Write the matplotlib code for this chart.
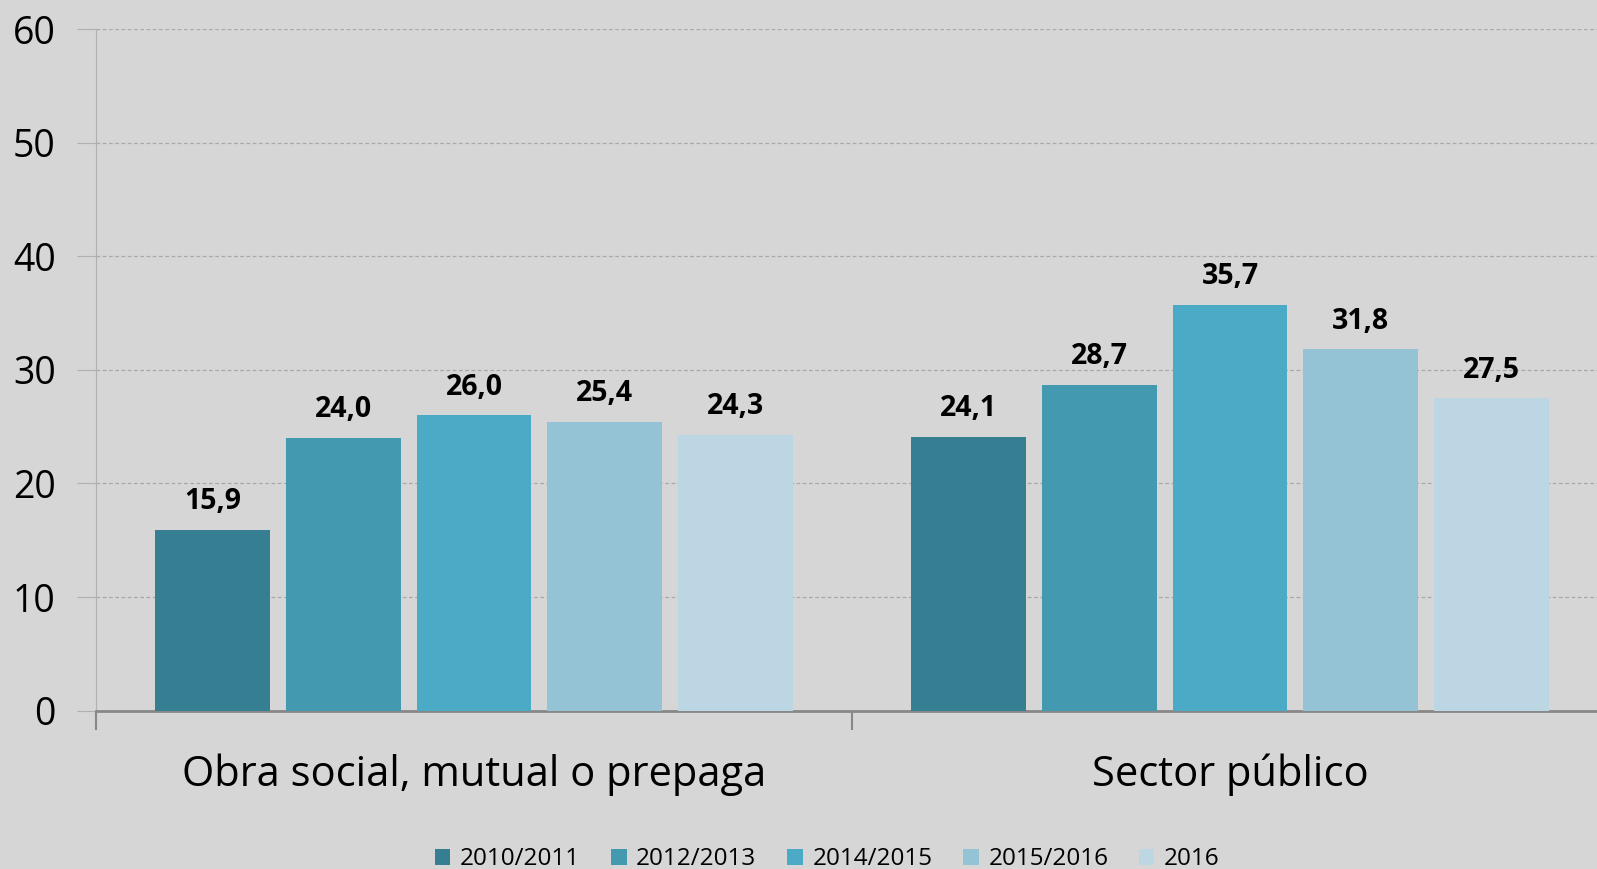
import numpy as np
import matplotlib
matplotlib.use("Agg")
import matplotlib.pyplot as plt
from matplotlib.patches import Patch

plt.rcParams["font.family"] = ["Open Sans", "DejaVu Sans"]

categories = ["Obra social, mutual o prepaga", "Sector público"]
periods = ["2010/2011", "2012/2013", "2014/2015", "2015/2016", "2016"]
values = {
    "2010/2011": [15.9, 24.1],
    "2012/2013": [24.0, 28.7],
    "2014/2015": [26.0, 35.7],
    "2015/2016": [25.4, 31.8],
    "2016": [24.3, 27.5],
}
colors = ["#367F93", "#4299B0", "#4BABC6", "#93C3D5", "#BCD7E3"]
bg = "#D6D6D6"

fig = plt.figure(figsize=(15.97, 8.69), dpi=100, facecolor=bg)
ax = fig.add_axes([96 / 1597, 1 - 710.7 / 869, 1512 / 1597, (710.7 - 29) / 869])
ax.set_facecolor(bg)

centers = np.arange(len(categories)) + 0.5
pitch = 0.173
width = 0.152
for i, p in enumerate(periods):
    x = centers + (i - 2) * pitch
    ax.bar(x, values[p], width=width, color=colors[i], zorder=3)
    for xi, v in zip(x, values[p]):
        ax.text(xi, v + 1.2, f"{v:.1f}".replace(".", ","), ha="center", va="bottom",
                fontsize=20.5, fontweight="bold", color="black", zorder=4)

ax.set_xlim(0, 2)
ax.set_ylim(0, 60)
ax.set_yticks(range(0, 61, 10))
ax.tick_params(axis="y", labelsize=27, length=14, color="#B0B0B0", pad=15)
ax.yaxis.grid(True, linestyle=(0, (3, 2)), color="#A8A8A8", linewidth=0.9, zorder=0)

ax.set_xticks([0, 1, 2])
ax.set_xticklabels([])
ax.tick_params(axis="x", length=14, color="#888888", width=1.5)
for c, lab in zip(centers, categories):
    ax.text(c, -5.6, lab, ha="center", va="center", fontsize=30)

for s in ["top", "right"]:
    ax.spines[s].set_visible(False)
ax.spines["left"].set_color("#B0B0B0")
ax.spines["bottom"].set_color("#888888")
ax.spines["bottom"].set_linewidth(2)

handles = [Patch(facecolor=c, label=p) for c, p in zip(colors, periods)]
fig.legend(handles=handles, loc="center", bbox_to_anchor=(0.518, 0.011), ncol=5,
           frameon=False, fontsize=17.5, handlelength=0.65, handleheight=0.65,
           handletextpad=0.4, columnspacing=1.25)

fig.savefig("out.png", dpi=100, facecolor=bg)
